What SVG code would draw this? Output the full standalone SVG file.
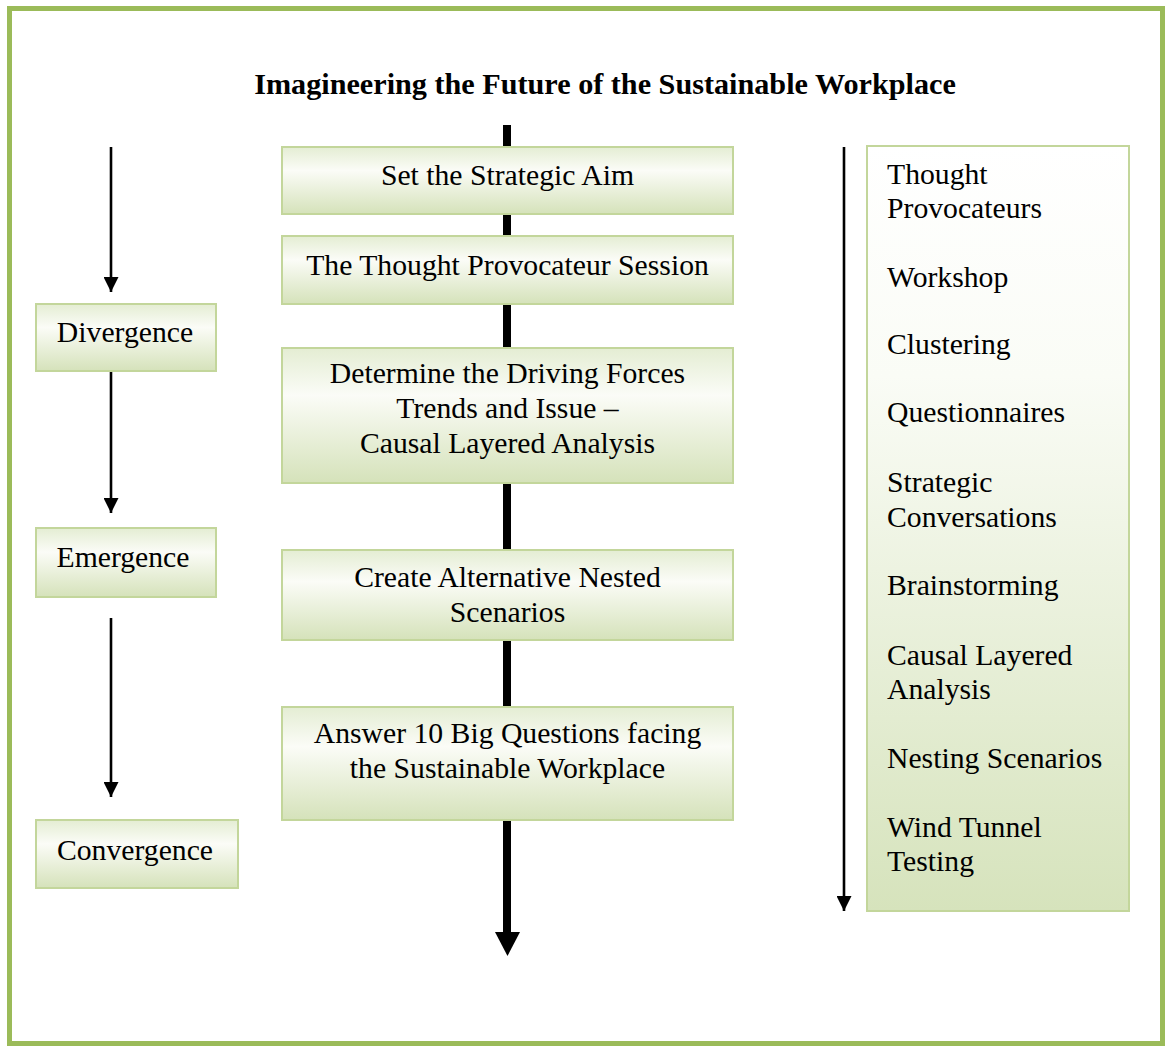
<svg xmlns="http://www.w3.org/2000/svg" width="1170" height="1046" viewBox="0 0 1170 1046">
<style>
.t{font-family:"Liberation Serif","Times New Roman",serif;font-size:29.7px;fill:#000}
.c{text-anchor:middle}
.b{fill:url(#g1);stroke:#c3d69b;stroke-width:2}
.thin{stroke:#000;stroke-width:2.6;fill:none}
</style>
<defs>
<linearGradient id="g1" x1="0" y1="0" x2="0" y2="1">
<stop offset="0" stop-color="#e4edd3"/>
<stop offset="0.35" stop-color="#fbfcf7"/>
<stop offset="1" stop-color="#d5e2ba"/>
</linearGradient>
<linearGradient id="g2" x1="0" y1="0" x2="0" y2="1">
<stop offset="0" stop-color="#ffffff"/>
<stop offset="0.3" stop-color="#fafcf6"/>
<stop offset="1" stop-color="#d6e3bc"/>
</linearGradient>
<marker id="ah" markerUnits="userSpaceOnUse" markerWidth="16" markerHeight="15" refX="15" refY="7.5" orient="auto">
<path d="M0,0 L15,7.5 L0,15 Z" fill="#000"/>
</marker>
</defs>
<rect x="0" y="0" width="1170" height="1046" fill="#fff"/>
<rect id="frame" x="9.5" y="8.5" width="1153" height="1035" fill="none" stroke="#9bbb59" stroke-width="5"/>
<text id="title" class="t c" x="605" y="94" font-weight="bold" style="font-size:30.2px">Imagineering the Future of the Sustainable Workplace</text>
<g id="connectors">
<line x1="507" y1="125" x2="507" y2="934" stroke="#000" stroke-width="8"/>
<polygon points="495,932 520,932 507.5,956" fill="#000"/>
<line class="thin" x1="111" y1="147" x2="111" y2="292" marker-end="url(#ah)"/>
<line class="thin" x1="111" y1="371" x2="111" y2="513" marker-end="url(#ah)"/>
<line class="thin" x1="111" y1="618" x2="111" y2="797" marker-end="url(#ah)"/>
<line class="thin" x1="844" y1="147" x2="844" y2="911" marker-end="url(#ah)"/>
</g>
<g id="n1"><rect class="b" x="282" y="147" width="451" height="67"/><text class="t c" x="507.5" y="185">Set the Strategic Aim</text></g>
<g id="n2"><rect class="b" x="282" y="236" width="451" height="68"/><text class="t c" x="507.5" y="275">The Thought Provocateur Session</text></g>
<g id="n3"><rect class="b" x="282" y="348" width="451" height="135"/><text class="t c" x="507.5" y="383">Determine the Driving Forces</text><text class="t c" x="507.5" y="418">Trends and Issue –</text><text class="t c" x="507.5" y="453">Causal Layered Analysis</text></g>
<g id="n4"><rect class="b" x="282" y="550" width="451" height="90"/><text class="t c" x="507.5" y="587">Create Alternative Nested</text><text class="t c" x="507.5" y="622">Scenarios</text></g>
<g id="n5"><rect class="b" x="282" y="707" width="451" height="113"/><text class="t c" x="507.5" y="743">Answer 10 Big Questions facing</text><text class="t c" x="507.5" y="778">the Sustainable Workplace</text></g>
<g id="divergence"><rect class="b" x="36" y="304" width="180" height="67"/><text class="t c" x="125" y="342">Divergence</text></g>
<g id="emergence"><rect class="b" x="36" y="528" width="180" height="69"/><text class="t c" x="123" y="567">Emergence</text></g>
<g id="convergence"><rect class="b" x="36" y="820" width="202" height="68"/><text class="t c" x="135" y="860">Convergence</text></g>
<g id="methods"><rect x="867" y="146" width="262" height="765" fill="url(#g2)" stroke="#c3d69b" stroke-width="2"/>
<text class="t" x="887" y="184">Thought</text>
<text class="t" x="887" y="218">Provocateurs</text>
<text class="t" x="887" y="287">Workshop</text>
<text class="t" x="887" y="354">Clustering</text>
<text class="t" x="887" y="422">Questionnaires</text>
<text class="t" x="887" y="492">Strategic</text>
<text class="t" x="887" y="527">Conversations</text>
<text class="t" x="887" y="595">Brainstorming</text>
<text class="t" x="887" y="665">Causal Layered</text>
<text class="t" x="887" y="699">Analysis</text>
<text class="t" x="887" y="768">Nesting Scenarios</text>
<text class="t" x="887" y="837">Wind Tunnel</text>
<text class="t" x="887" y="871">Testing</text>
</g>
</svg>
